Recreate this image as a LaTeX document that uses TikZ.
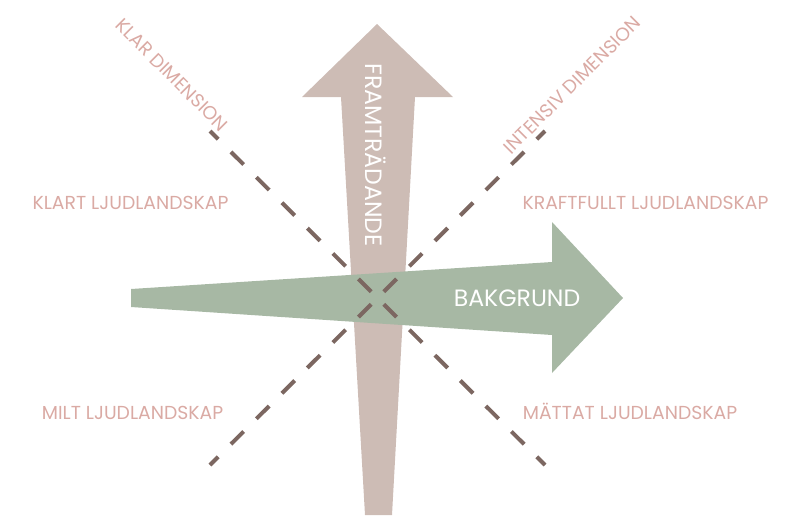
\documentclass[tikz,border=0pt]{standalone}
\usepackage{fontspec}
\setmainfont{Poppins}
\definecolor{taupe}{HTML}{CDBCB5}
\definecolor{sage}{HTML}{A7B8A4}
\definecolor{dashc}{HTML}{7C6761}
\definecolor{labelc}{HTML}{DAAAA4}
\tikzset{
  dashline/.style={draw=dashc, line width=4pt, dash pattern=on 18pt off 18pt, dash phase=27pt},
  lbl/.style={text=labelc, font=\fontsize{18.8}{18.8}\selectfont, inner sep=0pt},
  arrowlbl/.style={text=white, font=\fontsize{23.6}{23.6}\selectfont, inner sep=0pt}
}
\begin{document}
\begin{tikzpicture}[x=1pt,y=-1pt]
\useasboundingbox (0,0) rectangle (798,515);
% vertical arrow
\fill[taupe] (365,515) -- (341,97) -- (302,97) -- (377,24) -- (453,97) -- (415,97) -- (392,515) -- cycle;
% horizontal arrow
\fill[sage] (131,289) -- (552,262) -- (552,222) -- (623,298) -- (552,373) -- (552,335) -- (131,307) -- cycle;
% dashed diagonals
\coordinate (c) at (377.5,298);
\coordinate (tl) at (210,131);
\coordinate (br) at (545,465);
\coordinate (bl) at (210,465);
\coordinate (tr) at (545,131);
\draw[dashline] (c) -- (tl);
\draw[dashline] (c) -- (br);
\draw[dashline] (c) -- (bl);
\draw[dashline] (c) -- (tr);
% arrow labels
\node[arrowlbl, rotate=-90] (fram) at (376,155) {FRAMTRÄDANDE};
\node[arrowlbl] (bak) at (517,298) {BAKGRUND};
% corner labels
\node[lbl, anchor=base] (klart) at (130.5,209) {KLART LJUDLANDSKAP};
\node[lbl, anchor=base] (kraft) at (645.5,209) {KRAFTFULLT LJUDLANDSKAP};
\node[lbl, anchor=base] (milt) at (132.5,419) {MILT LJUDLANDSKAP};
\node[lbl, anchor=base] (mattat) at (630,419) {MÄTTAT LJUDLANDSKAP};
\node[lbl, rotate=-45] (klar) at (172,75) {KLAR DIMENSION};
\node[lbl, rotate=45] (intensiv) at (572,85) {INTENSIV DIMENSION};
\end{tikzpicture}
\end{document}
